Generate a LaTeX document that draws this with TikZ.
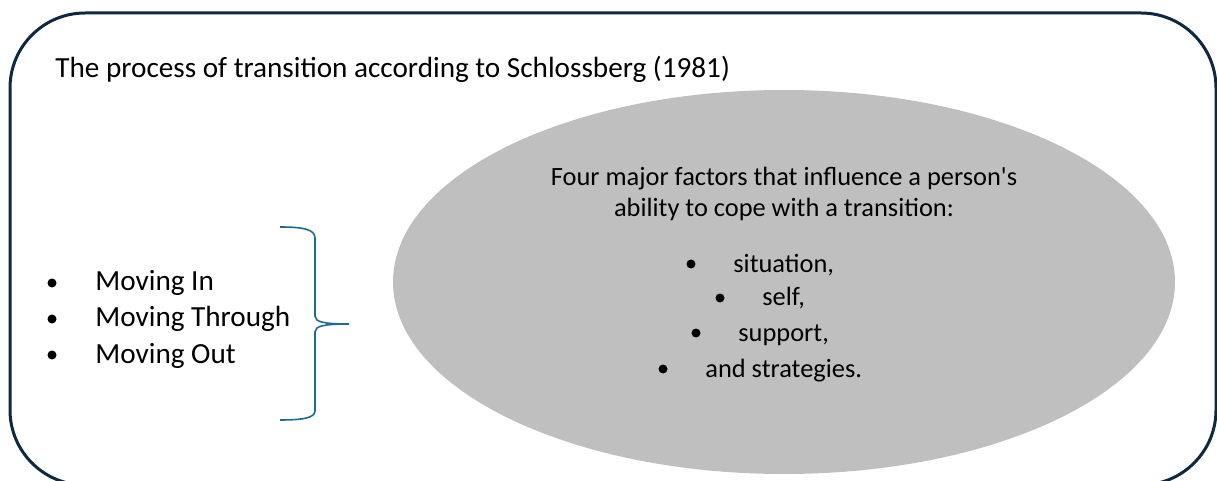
\documentclass[tikz,border=0pt]{standalone}
\usepackage{fontspec}
\setmainfont{Carlito}
\definecolor{framecol}{HTML}{0E2841}
\definecolor{bracecol}{HTML}{1F6A8E}
\definecolor{ovalcol}{HTML}{BFBFBF}

\begin{document}
\begin{tikzpicture}[x=0.5pt,y=-0.5pt,
  every node/.style={inner sep=0pt,font=\fontsize{14.6}{17}\selectfont},
  item/.style={anchor=base west},line/.style={anchor=base},
  small/.style={font=\fontsize{13.2}{16}\selectfont}]
\useasboundingbox(0,0)rectangle(1217,481);
\clip(0,0)rectangle(1217,481);
% outer frame, its lower edge runs off the page
\draw[framecol,line width=1.5pt,rounded corners=37.5pt](10,13)rectangle(1216,485);
\fill[ovalcol](784,282)ellipse[x radius=391,y radius=192];
\node[item](title) at(55,78){The process of transition according to Schlossberg (1981)};
% the three phases
\foreach \t/\y[count=\i] in{Moving In/291,Moving Through/327,Moving Out/363}{
\fill(52,\y-8)circle[radius=4.5];
\node[item](move\i) at(95,\y){\t};}
% curly brace
\draw[bracecol,line width=0.8pt](280,227)..controls(302,227)and(315,229)..(315,238)
--(315,316)..controls(315,322)and(324,324)..(349,324)
..controls(324,324)and(315,326)..(315,332)
--(315,411)..controls(315,418)and(302,420)..(280,420);
% factors inside the oval
\node[line,small](head1) at(784,185){Four major factors that influence a person\textquotesingle s};
\node[line,small](head2) at(784,217){ability to cope with a transition:};
\foreach \t/\b/\x/\y[count=\i] in{{situation,}/691/733/272,{self,}/720/762/306,
{support,}/696/738/341,{and strategies.}/663/705/377}{
\fill(\b,\y-8)circle[radius=4.5];
\node[item,small](factor\i) at(\x,\y){\t};}
\end{tikzpicture}
\end{document}
